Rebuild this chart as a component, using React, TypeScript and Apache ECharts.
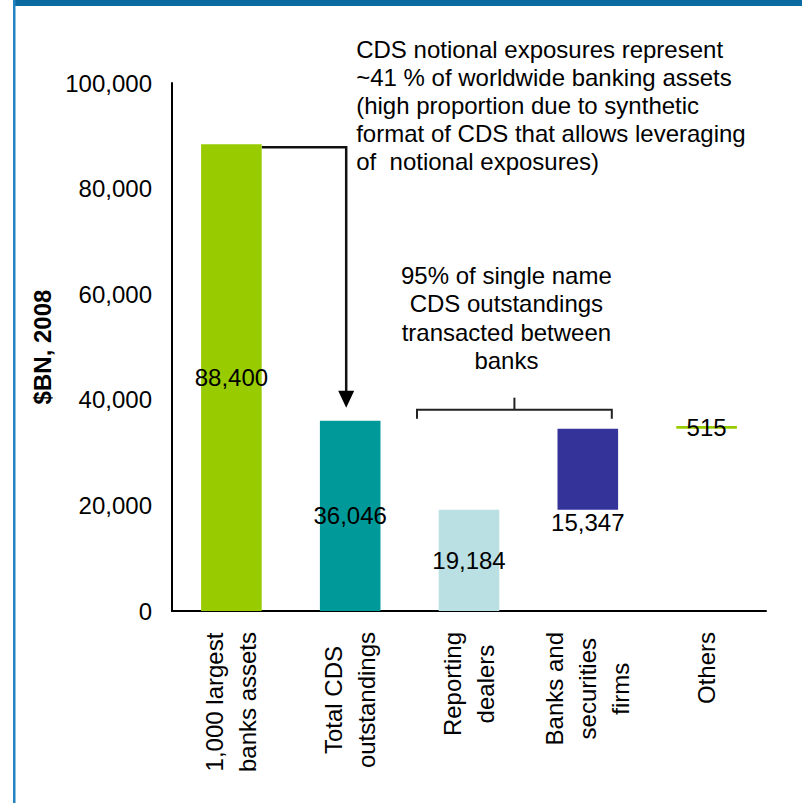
import React, { useEffect, useRef } from 'react';
import * as echarts from 'echarts';

// Waterfall: bank assets vs. CDS notional outstandings, split by counterparty
const categories = [
  '1,000 largest\nbanks assets',
  'Total CDS\noutstandings',
  'Reporting\ndealers',
  'Banks and\nsecurities\nfirms',
  'Others',
];
const values = [88400, 36046, 19184, 15347, 515];
const barColors = ['#99CC00', '#009999', '#BBE0E3', '#333399', '#99CC00'];
const labelPositions = ['inside', 'inside', 'inside', 'bottom', 'inside'];
// index where the counterparty breakdown starts (stacked on each other)
const breakdownStart = 2;

const yMin = 0;
const yMax = 100000;
const yInterval = 20000;
const yAxisTitle = '$BN, 2008';

const leverageNote = [
  'CDS notional exposures represent',
  '~41 % of worldwide banking assets',
  '(high proportion due to synthetic',
  'format of CDS that allows leveraging',
  'of  notional exposures)',
];
const interbankNote = [
  '95% of single name',
  'CDS outstandings',
  'transacted between',
  'banks',
];

const FONT = "'Liberation Sans', Arial, Helvetica, sans-serif";
const INK = '#000000';

function buildBases(): number[] {
  const bases: number[] = [];
  let run = 0;
  values.forEach((v, i) => {
    if (i < breakdownStart) {
      bases.push(0);
    } else {
      bases.push(run);
      run += v;
    }
  });
  return bases;
}

export default function App() {
  const ref = useRef<HTMLDivElement>(null);

  useEffect(() => {
    if (!ref.current) return;
    const chart = echarts.init(ref.current, null, { renderer: 'svg' });
    const bases = buildBases();

    chart.setOption({
      animation: false,
      backgroundColor: '#ffffff',
      grid: { left: 172, right: 36, top: 83, bottom: 192, containLabel: false },
      xAxis: {
        type: 'category',
        data: categories,
        axisLine: { show: true, lineStyle: { color: INK, width: 2 } },
        axisTick: { show: false },
        axisLabel: {
          rotate: 90,
          margin: 21,
          interval: 0,
          formatter: (v: string) => v.split('\n').map((s) => `{c|${s}}`).join('\n'),
          rich: {
            c: {
              align: 'center',
              fontSize: 24,
              lineHeight: 33,
              fontFamily: FONT,
              color: INK,
            },
          },
        },
      },
      yAxis: {
        type: 'value',
        min: yMin,
        max: yMax,
        interval: yInterval,
        name: yAxisTitle,
        nameLocation: 'middle',
        nameGap: 118,
        nameRotate: 90,
        nameTextStyle: { fontFamily: FONT, fontSize: 24, fontWeight: 'bold', color: INK },
        axisLine: { show: true, lineStyle: { color: INK, width: 2 } },
        axisTick: { show: false },
        splitLine: { show: false },
        axisLabel: {
          margin: 20,
          fontFamily: FONT,
          fontSize: 24,
          color: INK,
          formatter: (v: number) => v.toLocaleString('en-US'),
        },
      },
      series: [
        {
          name: 'base',
          type: 'bar',
          stack: 'w',
          silent: true,
          barWidth: '51%',
          itemStyle: { color: 'transparent' },
          data: bases,
        },
        {
          name: 'value',
          type: 'bar',
          stack: 'w',
          barWidth: '51%',
          label: {
            show: true,
            fontFamily: FONT,
            fontSize: 24,
            color: INK,
            distance: 1,
            formatter: (p: any) => Number(p.value).toLocaleString('en-US'),
          },
          data: values.map((v, i) => ({
            value: v,
            itemStyle: { color: barColors[i] },
            label: { position: labelPositions[i] },
          })),
        },
      ],
    });

    // connectors and notes, positioned from the chart's own scales
    const px = (i: number, v: number) =>
      chart.convertToPixel({ xAxisIndex: 0, yAxisIndex: 0 }, [i, v]) as number[];
    const band = px(1, 0)[0] - px(0, 0)[0];
    const half = (band * 0.51) / 2;

    const top0 = px(0, values[0]);
    const top1 = px(1, values[1]);
    const arrowX = top1[0] - 4;
    const arrowStartY = top0[1] + 3;
    const arrowTipY = top1[1] - 13;

    const c2 = px(2, 0)[0];
    const c3 = px(3, 0)[0];
    const brLeft = c2 - 52;
    const brRight = c3 + 24;
    const brMid = (brLeft + brRight) / 2;
    const brY = top1[1] - 11;

    const lineStyle = { stroke: '#111111', lineWidth: 2.5, fill: 'none' };

    chart.setOption({
      graphic: [
        // frame
        { type: 'rect', shape: { x: 13, y: 0, width: 789, height: 6 }, style: { fill: '#0B6A9F' }, silent: true },
        { type: 'rect', shape: { x: 13, y: 0, width: 2.5, height: 803 }, style: { fill: '#2383C0' }, silent: true },
        // arrow from bank assets to CDS total
        {
          type: 'polyline',
          shape: {
            points: [
              [top0[0] + half, arrowStartY],
              [arrowX, arrowStartY],
              [arrowX, arrowTipY - 14],
            ],
          },
          style: lineStyle,
          silent: true,
        },
        {
          type: 'polygon',
          shape: {
            points: [
              [arrowX - 8, arrowTipY - 17],
              [arrowX + 8, arrowTipY - 17],
              [arrowX, arrowTipY],
            ],
          },
          style: { fill: '#000000' },
          silent: true,
        },
        // bracket over the counterparty split
        {
          type: 'polyline',
          shape: {
            points: [
              [brLeft, brY + 9],
              [brLeft, brY],
              [brRight, brY],
              [brRight, brY + 9],
            ],
          },
          style: { stroke: '#222222', lineWidth: 2, fill: 'none' },
          silent: true,
        },
        {
          type: 'line',
          shape: { x1: brMid, y1: brY, x2: brMid, y2: brY - 12 },
          style: { stroke: '#222222', lineWidth: 2 },
          silent: true,
        },
        // notes
        {
          type: 'text',
          x: arrowX + 10,
          y: 35,
          style: {
            text: leverageNote.join('\n'),
            fontFamily: FONT,
            fontSize: 24,
            lineHeight: 28,
            fill: INK,
            align: 'left',
            verticalAlign: 'top',
          },
          silent: true,
        },
        {
          type: 'text',
          x: brMid - 8,
          y: 261,
          style: {
            text: interbankNote.join('\n'),
            fontFamily: FONT,
            fontSize: 24,
            lineHeight: 28.5,
            fill: INK,
            align: 'center',
            verticalAlign: 'top',
          },
          silent: true,
        },
      ],
    });

    return () => chart.dispose();
  }, []);

  return (
    <div
      ref={ref}
      style={{ position: 'absolute', left: 0, top: 0, width: 802, height: 803, background: '#fff' }}
    />
  );
}
